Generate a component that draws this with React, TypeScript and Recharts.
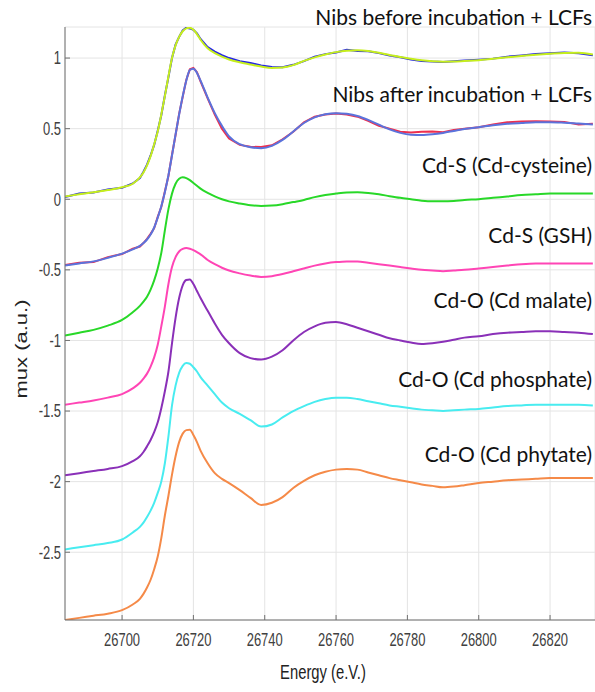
import React from "react";
import { LineChart, Line, XAxis, YAxis, CartesianGrid } from "recharts";

const energy = [26684, 26688, 26692, 26696, 26700, 26703, 26705, 26706, 26707, 26708, 26709, 26710, 26711, 26712, 26713, 26714, 26715, 26716, 26717, 26718, 26719, 26720, 26721, 26722, 26724, 26726, 26728, 26730, 26733, 26736, 26739, 26742, 26745, 26748, 26751, 26754, 26757, 26760, 26763, 26766, 26769, 26772, 26775, 26778, 26781, 26784, 26787, 26790, 26793, 26796, 26800, 26804, 26808, 26812, 26816, 26820, 26824, 26828, 26832];

const beforeData = [0.015, 0.04, 0.048, 0.07, 0.082, 0.112, 0.15, 0.195, 0.245, 0.31, 0.385, 0.485, 0.595, 0.735, 0.865, 1.0, 1.095, 1.15, 1.195, 1.215, 1.21, 1.2, 1.175, 1.135, 1.078, 1.045, 1.02, 1.0, 0.978, 0.965, 0.948, 0.937, 0.935, 0.952, 0.978, 1.01, 1.028, 1.04, 1.058, 1.05, 1.048, 1.035, 1.018, 1.005, 0.99, 0.98, 0.975, 0.972, 0.978, 0.982, 0.988, 0.996, 1.01, 1.018, 1.028, 1.034, 1.04, 1.034, 1.02];
const beforeFit = [0.02, 0.035, 0.05, 0.065, 0.085, 0.11, 0.155, 0.19, 0.24, 0.305, 0.39, 0.48, 0.6, 0.73, 0.87, 1.0, 1.09, 1.15, 1.19, 1.21, 1.215, 1.2, 1.17, 1.13, 1.07, 1.035, 1.01, 0.99, 0.97, 0.955, 0.94, 0.93, 0.933, 0.95, 0.98, 1.005, 1.025, 1.042, 1.052, 1.055, 1.05, 1.038, 1.022, 1.008, 0.995, 0.984, 0.977, 0.974, 0.975, 0.979, 0.985, 0.995, 1.005, 1.015, 1.024, 1.031, 1.036, 1.037, 1.025];
const afterData = [-0.465, -0.45, -0.445, -0.41, -0.388, -0.35, -0.335, -0.31, -0.28, -0.245, -0.205, -0.125, -0.055, 0.055, 0.165, 0.315, 0.455, 0.605, 0.725, 0.845, 0.92, 0.93, 0.9, 0.835, 0.715, 0.6, 0.5, 0.43, 0.385, 0.372, 0.37, 0.382, 0.425, 0.478, 0.545, 0.585, 0.6, 0.608, 0.6, 0.585, 0.555, 0.52, 0.5, 0.478, 0.472, 0.478, 0.48, 0.475, 0.49, 0.5, 0.51, 0.53, 0.545, 0.55, 0.552, 0.55, 0.548, 0.53, 0.535];
const afterFit = [-0.47, -0.455, -0.44, -0.415, -0.385, -0.355, -0.33, -0.31, -0.285, -0.25, -0.2, -0.13, -0.05, 0.05, 0.17, 0.31, 0.46, 0.6, 0.73, 0.84, 0.915, 0.925, 0.895, 0.84, 0.72, 0.61, 0.52, 0.445, 0.39, 0.368, 0.362, 0.378, 0.42, 0.48, 0.54, 0.58, 0.602, 0.61, 0.605, 0.59, 0.562, 0.528, 0.495, 0.47, 0.457, 0.455, 0.46, 0.47, 0.484, 0.498, 0.51, 0.524, 0.534, 0.54, 0.545, 0.546, 0.542, 0.536, 0.53];
const cdCysteine = [-0.965, -0.945, -0.925, -0.895, -0.855, -0.8, -0.755, -0.725, -0.69, -0.64, -0.575, -0.49, -0.38, -0.22, -0.07, 0.04, 0.11, 0.145, 0.155, 0.15, 0.135, 0.115, 0.095, 0.075, 0.045, 0.02, 0.0, -0.015, -0.03, -0.042, -0.048, -0.045, -0.035, -0.02, -0.005, 0.015, 0.03, 0.04, 0.048, 0.05, 0.045, 0.035, 0.022, 0.01, 0.0, -0.01, -0.015, -0.015, -0.012, -0.005, 0.0, 0.01, 0.02, 0.03, 0.035, 0.04, 0.04, 0.04, 0.04];
const cdGSH = [-1.455, -1.44, -1.425, -1.405, -1.38, -1.34, -1.3, -1.27, -1.235, -1.185, -1.12, -1.03, -0.9, -0.76, -0.6, -0.48, -0.41, -0.37, -0.352, -0.345, -0.35, -0.36, -0.375, -0.39, -0.43, -0.46, -0.485, -0.505, -0.525, -0.54, -0.55, -0.545, -0.53, -0.51, -0.49, -0.47, -0.455, -0.445, -0.44, -0.44, -0.45, -0.46, -0.47, -0.48, -0.49, -0.5, -0.505, -0.51, -0.505, -0.5, -0.49, -0.48, -0.47, -0.46, -0.455, -0.455, -0.455, -0.455, -0.455];
const cdMalate = [-1.955, -1.94, -1.925, -1.91, -1.89, -1.855, -1.82, -1.79, -1.75, -1.705, -1.65, -1.58, -1.48, -1.36, -1.22, -1.02, -0.84, -0.7, -0.61, -0.572, -0.568, -0.6, -0.65, -0.7, -0.79, -0.88, -0.96, -1.02, -1.09, -1.125, -1.135, -1.115, -1.07, -1.0, -0.94, -0.9, -0.875, -0.87, -0.885, -0.91, -0.935, -0.96, -0.985, -1.0, -1.015, -1.025, -1.02, -1.01, -0.995, -0.98, -0.97, -0.955, -0.945, -0.94, -0.935, -0.935, -0.94, -0.945, -0.955];
const cdPhosphate = [-2.48, -2.465, -2.45, -2.435, -2.41, -2.36, -2.32, -2.29, -2.25, -2.205, -2.15, -2.08, -2.0, -1.87, -1.68, -1.46, -1.32, -1.23, -1.18, -1.16, -1.165, -1.19, -1.22, -1.26, -1.32, -1.38, -1.44, -1.48, -1.52, -1.565, -1.61, -1.595, -1.545, -1.5, -1.465, -1.435, -1.415, -1.405, -1.405, -1.415, -1.43, -1.445, -1.46, -1.47, -1.48, -1.49, -1.495, -1.5, -1.495, -1.49, -1.485, -1.475, -1.465, -1.46, -1.455, -1.455, -1.455, -1.455, -1.46];
const cdPhytate = [-2.98, -2.965, -2.95, -2.935, -2.91, -2.87, -2.83, -2.795, -2.75, -2.695, -2.62, -2.53, -2.4, -2.24, -2.1, -1.95, -1.82, -1.72, -1.66, -1.635, -1.632, -1.67, -1.72, -1.78, -1.87, -1.94, -1.98, -2.01, -2.06, -2.115, -2.165, -2.15, -2.11, -2.045, -1.995, -1.955, -1.93, -1.915, -1.91, -1.915, -1.935, -1.955, -1.975, -1.99, -2.005, -2.02, -2.03, -2.04, -2.035, -2.025, -2.01, -2.0, -1.99, -1.985, -1.98, -1.975, -1.975, -1.975, -1.975];

const xTicks = [26700, 26720, 26740, 26760, 26780, 26800, 26820];
const yTicks = [-2.5, -2, -1.5, -1, -0.5, 0, 0.5, 1];

const annotations = [
  "Nibs before incubation + LCFs",
  "Nibs after incubation + LCFs",
  "Cd-S (Cd-cysteine)",
  "Cd-S (GSH)",
  "Cd-O (Cd malate)",
  "Cd-O (Cd phosphate)",
  "Cd-O (Cd phytate)",
];
const annotationBaselines = [25, 102, 173, 243, 308, 387, 462];

const data = energy.map((e, i) => ({
  energy: e,
  beforeData: beforeData[i],
  beforeFit: beforeFit[i],
  afterData: afterData[i],
  afterFit: afterFit[i],
  cdCysteine: cdCysteine[i],
  cdGSH: cdGSH[i],
  cdMalate: cdMalate[i],
  cdPhosphate: cdPhosphate[i],
  cdPhytate: cdPhytate[i],
}));

const SANS = "Arial, 'Liberation Sans', Helvetica, sans-serif";
const axisColor = "#707070";
const SQUISH = 0.72;
const TICK_SIZE = 18;

function XTick(props: any) {
  const { x, y, payload } = props;
  return (
    <g transform={`translate(${x},${y}) scale(${SQUISH},1)`}>
      <text x={0} y={0} dy="0.71em" textAnchor="middle" fontFamily={SANS} fontSize={TICK_SIZE} fill="#404040">
        {payload.value}
      </text>
    </g>
  );
}

function YTick(props: any) {
  const { x, y, payload } = props;
  return (
    <g transform={`translate(${x},${y}) scale(${SQUISH},1)`}>
      <text x={0} y={0} dy="0.355em" textAnchor="end" fontFamily={SANS} fontSize={TICK_SIZE} fill="#404040">
        {payload.value}
      </text>
    </g>
  );
}

export default function App() {
  return (
    <div style={{ position: "absolute", left: 0, top: 0, width: 595, height: 692, background: "#fff" }}>
      <LineChart width={595} height={692} data={data} margin={{ top: 27, right: 0, left: 8, bottom: 42 }}>
        <CartesianGrid stroke="#e4e4e4" strokeWidth={1} />
        <XAxis
          dataKey="energy"
          type="number"
          domain={[26684, 26832.6]}
          ticks={xTicks}
          allowDataOverflow
          height={30}
          stroke={axisColor}
          tickSize={-5}
          tickMargin={18}
          tick={<XTick />}
        />
        <XAxis
          xAxisId="top"
          orientation="top"
          dataKey="energy"
          type="number"
          domain={[26684, 26832.6]}
          ticks={xTicks}
          allowDataOverflow
          height={0}
          stroke="#555"
          tickSize={-5}
          tickFormatter={() => ""}
        />
        <YAxis
          type="number"
          domain={[-2.98, 1.22]}
          ticks={yTicks}
          allowDataOverflow
          width={57}
          stroke={axisColor}
          tickSize={-5}
          tickMargin={9}
          tick={<YTick />}
        />
        <Line type="linear" dataKey="beforeData" stroke="#2525e6" strokeWidth={2} dot={false} isAnimationActive={false} />
        <Line type="monotone" dataKey="beforeFit" stroke="#c6ef1c" strokeWidth={2} dot={false} isAnimationActive={false} />
        <Line type="linear" dataKey="afterData" stroke="#ee2f4f" strokeWidth={2} dot={false} isAnimationActive={false} />
        <Line type="monotone" dataKey="afterFit" stroke="#5b73dc" strokeWidth={2} dot={false} isAnimationActive={false} />
        <Line type="monotone" dataKey="cdCysteine" stroke="#28d828" strokeWidth={2} dot={false} isAnimationActive={false} />
        <Line type="monotone" dataKey="cdGSH" stroke="#ff45b5" strokeWidth={2} dot={false} isAnimationActive={false} />
        <Line type="monotone" dataKey="cdMalate" stroke="#8a30b8" strokeWidth={2} dot={false} isAnimationActive={false} />
        <Line type="monotone" dataKey="cdPhosphate" stroke="#48ecf0" strokeWidth={2} dot={false} isAnimationActive={false} />
        <Line type="monotone" dataKey="cdPhytate" stroke="#f58a48" strokeWidth={2} dot={false} isAnimationActive={false} />
      </LineChart>
      <svg width={595} height={692} style={{ position: "absolute", left: 0, top: 0, pointerEvents: "none" }}>
        {annotations.map((t, i) => (
          <text
            key={t}
            x={592}
            y={annotationBaselines[i]}
            textAnchor="end"
            fontFamily="Lato, 'Open Sans', sans-serif"
            fontSize={21}
            fill="#111"
          >
            {t}
          </text>
        ))}
        <g transform={`translate(21,349) scale(0.76,1) rotate(-90)`}>
          <text x={0} y={0} dy="0.35em" textAnchor="middle" fontFamily={SANS} fontSize={22} fill="#222">
            mux (a.u.)
          </text>
        </g>
        <g transform={`translate(323,679) scale(0.74,1)`}>
          <text x={0} y={0} textAnchor="middle" fontFamily={SANS} fontSize={20} fill="#222">
            Energy (e.V.)
          </text>
        </g>
      </svg>
    </div>
  );
}
